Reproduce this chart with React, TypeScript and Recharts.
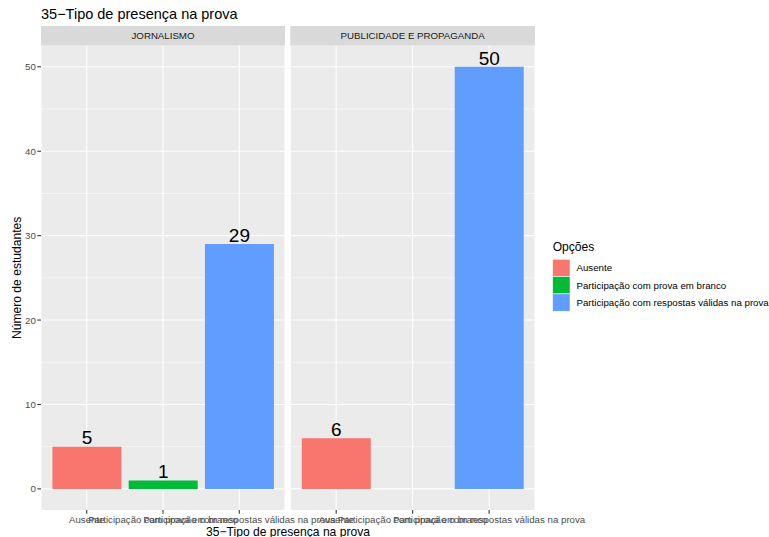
import React from 'react';
import { BarChart, Bar, XAxis, YAxis, CartesianGrid, Cell, LabelList } from 'recharts';

const categories = ['Ausente', 'Participação com prova em branco', 'Participação com respostas válidas na prova'];
const facets = ['JORNALISMO', 'PUBLICIDADE E PROPAGANDA'];
const jornalismoValues: (number | null)[] = [5, 1, 29];
const publicidadeValues: (number | null)[] = [6, null, 50];
const colors = ['#F8766D', '#00BA38', '#619CFF'];
const yTicks = [0, 10, 20, 30, 40, 50];
const yMinor = [5, 15, 25, 35, 45];
const yDomain: [number, number] = [-2.5, 52.5];
const title = '35−Tipo de presença na prova';
const xTitle = '35−Tipo de presença na prova';
const yTitle = 'Número de estudantes';
const legendTitle = 'Opções';

const W = 769;
const H = 537;
const FONT = '"Liberation Sans", Arial, Helvetica, sans-serif';
const SMALL = 9.7;
const MED = 12.1;
const PANEL_TOP = 45.7;
const PANEL_BOTTOM = 510;
const STRIP_TOP = 26;
const panels = [
  { left: 41, right: 285 },
  { left: 290.3, right: 535 },
];

const facetValues = [jornalismoValues, publicidadeValues];

const XTick = (props: any) => {
  const { x, y, payload } = props;
  return (
    <text x={x} y={y} dy={8.8} textAnchor="middle" fontSize={SMALL} fill="#4D4D4D" fontFamily={FONT}>
      {payload.value}
    </text>
  );
};

const BarLabel = (props: any) => {
  const { x, y, width, value } = props;
  if (value === null || value === undefined) return null;
  return (
    <text x={x + width / 2} y={y - 2.2} textAnchor="middle" fontSize={19} fill="#000" fontFamily={FONT}>
      {value}
    </text>
  );
};

function Panel({ idx }: { idx: number }) {
  const p = panels[idx];
  const pw = p.right - p.left;
  const pad = (pw * 0.1) / 3.2;
  const data = categories.map((c, i) => ({ cat: c, value: facetValues[idx][i] }));
  const showY = idx === 0;
  return (
    <div style={{ position: 'absolute', left: 0, top: 0 }}>
      <BarChart
        width={W}
        height={H}
        data={data}
        margin={{ top: PANEL_TOP, right: W - p.right, bottom: 0, left: showY ? 0 : p.left }}
        barCategoryGap="5%"
      >
        <CartesianGrid
          fill="#EBEBEB"
          stroke="#FFFFFF"
          strokeWidth={0.53}
          vertical={false}
          horizontalValues={yMinor}
        />
        <CartesianGrid stroke="#FFFFFF" strokeWidth={1.07} horizontalValues={yTicks} />
        <XAxis
          dataKey="cat"
          type="category"
          height={H - PANEL_BOTTOM}
          padding={{ left: pad, right: pad }}
          axisLine={false}
          tickLine={{ stroke: '#333333', strokeWidth: 1.07 }}
          tickSize={3.7}
          tickMargin={0}
          interval={0}
          tick={<XTick />}
        />
        <YAxis
          hide={!showY}
          width={p.left}
          domain={yDomain}
          ticks={yTicks}
          type="number"
          allowDataOverflow
          axisLine={false}
          tickLine={{ stroke: '#333333', strokeWidth: 1.07 }}
          tickSize={3.7}
          tickMargin={1.5}
          tick={{ fontSize: SMALL, fill: '#4D4D4D', fontFamily: FONT }}
        />
        <Bar dataKey="value" isAnimationActive={false}>
          {data.map((d, i) => (
            <Cell key={i} fill={colors[i]} />
          ))}
          <LabelList dataKey="value" content={<BarLabel />} />
        </Bar>
      </BarChart>
    </div>
  );
}

export default function App() {
  const panelMid = (PANEL_TOP + PANEL_BOTTOM) / 2;
  const xMid = (panels[0].left + panels[1].right) / 2;
  const legX = 552.7;
  const legKeyTop = 259.3;
  const key = 17.3;
  return (
    <div style={{ position: 'absolute', left: 0, top: 0, width: W, height: H, background: '#fff', fontFamily: FONT }}>
      <svg width={W} height={H} style={{ position: 'absolute', left: 0, top: 0 }}>
        <text x={41} y={18.5} fontSize={14.5} fill="#000" fontFamily={FONT}>{title}</text>
        {facets.map((f, i) => (
          <g key={f}>
            <rect x={panels[i].left} y={STRIP_TOP} width={panels[i].right - panels[i].left} height={PANEL_TOP - STRIP_TOP} fill="#D9D9D9" />
            <text x={(panels[i].left + panels[i].right) / 2} y={(STRIP_TOP + PANEL_TOP) / 2 + 3.4} textAnchor="middle" fontSize={SMALL} fill="#1A1A1A" fontFamily={FONT}>{f}</text>
          </g>
        ))}
        <text x={xMid} y={535.8} textAnchor="middle" fontSize={MED} fill="#000" fontFamily={FONT}>{xTitle}</text>
        <text transform={`translate(20.5, ${panelMid}) rotate(-90)`} textAnchor="middle" fontSize={MED} fill="#000" fontFamily={FONT}>{yTitle}</text>
        <text x={legX} y={250.7} fontSize={MED} fill="#000" fontFamily={FONT}>{legendTitle}</text>
        {categories.map((c, i) => (
          <g key={c}>
            <rect x={legX} y={legKeyTop + i * key} width={key} height={key} fill={colors[i]} stroke="#fff" strokeWidth={0.5} />
            <text x={legX + key + 6.5} y={legKeyTop + i * key + key / 2 + 3.4} fontSize={SMALL} fill="#000" fontFamily={FONT}>{c}</text>
          </g>
        ))}
      </svg>
      <Panel idx={0} />
      <Panel idx={1} />
    </div>
  );
}
